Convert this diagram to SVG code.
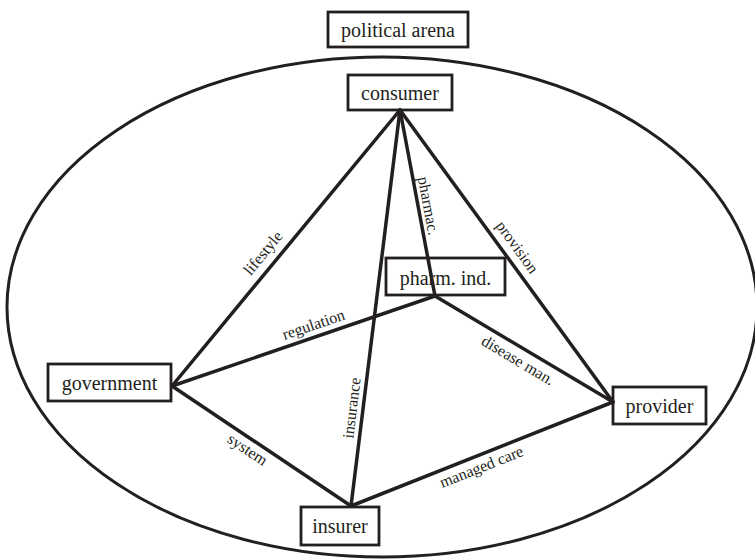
<svg xmlns="http://www.w3.org/2000/svg" width="755" height="560" viewBox="0 0 755 560">
  <style>
    .arena { fill: none; stroke: #231f20; stroke-width: 3; }
    .box { fill: #ffffff; stroke: #231f20; stroke-width: 2.8; }
    .name { font-family: "Liberation Serif", "Times New Roman", serif; font-size: 20px; fill: #231f20; text-anchor: middle; }
    .link { stroke: #231f20; stroke-width: 3.5; stroke-linecap: round; fill: none; }
    .tag { font-family: "Liberation Serif", "Times New Roman", serif; font-size: 16px; fill: #231f20; text-anchor: middle; }
  </style>
  <rect width="755" height="560" fill="#ffffff"/>

  <!-- enclosing arena -->
  <ellipse class="arena" cx="382" cy="307" rx="375" ry="250"/>

  <!-- actors -->
  <g id="political-arena">
    <rect class="box" x="328" y="12" width="140" height="35"/>
    <text class="name" x="398" y="36.5">political arena</text>
  </g>
  <g id="consumer">
    <rect class="box" x="348" y="75" width="104" height="35"/>
    <text class="name" x="400" y="99.5">consumer</text>
  </g>
  <g id="pharm-ind">
    <rect class="box" x="386" y="258" width="119" height="37"/>
    <text class="name" x="445.5" y="284.5">pharm. ind.</text>
  </g>
  <g id="government">
    <rect class="box" x="48" y="364" width="123" height="37"/>
    <text class="name" x="109.5" y="389.5">government</text>
  </g>
  <g id="provider">
    <rect class="box" x="613" y="387" width="93" height="37"/>
    <text class="name" x="659.5" y="412.5">provider</text>
  </g>
  <g id="insurer">
    <rect class="box" x="301" y="507" width="78" height="38"/>
    <text class="name" x="340" y="533">insurer</text>
  </g>

  <!-- relations -->
  <g id="connectors">
    <line class="link" x1="400" y1="110" x2="172" y2="386"/>
    <line class="link" x1="400" y1="110" x2="351" y2="506"/>
    <line class="link" x1="400" y1="110" x2="435" y2="296"/>
    <line class="link" x1="400" y1="110" x2="613" y2="402"/>
    <line class="link" x1="172" y1="386" x2="435" y2="296"/>
    <line class="link" x1="435" y1="296" x2="613" y2="402"/>
    <line class="link" x1="172" y1="386" x2="351" y2="506"/>
    <line class="link" x1="351" y1="506" x2="613" y2="402"/>

    <text class="tag" transform="translate(274 262.1) rotate(-50.54)" y="-9">lifestyle</text>
    <text class="tag" transform="translate(317.4 336.2) rotate(-18.89)" y="-7">regulation</text>
    <text class="tag" transform="translate(418.3 207.7) rotate(79.4)" y="-5">pharmac.</text>
    <text class="tag" transform="translate(505.7 255.5) rotate(53.98)" y="-9">provision</text>
    <text class="tag" transform="translate(524.6 349.4) rotate(30.78)" y="18">disease man.</text>
    <text class="tag" transform="translate(253.5 440.6) rotate(33.83)" y="16">system</text>
    <text class="tag" transform="translate(362.9 409.3) rotate(-82.96)" y="-6">insurance</text>
    <text class="tag" transform="translate(477.1 455.9) rotate(-21.65)" y="17">managed care</text>
  </g>
</svg>
